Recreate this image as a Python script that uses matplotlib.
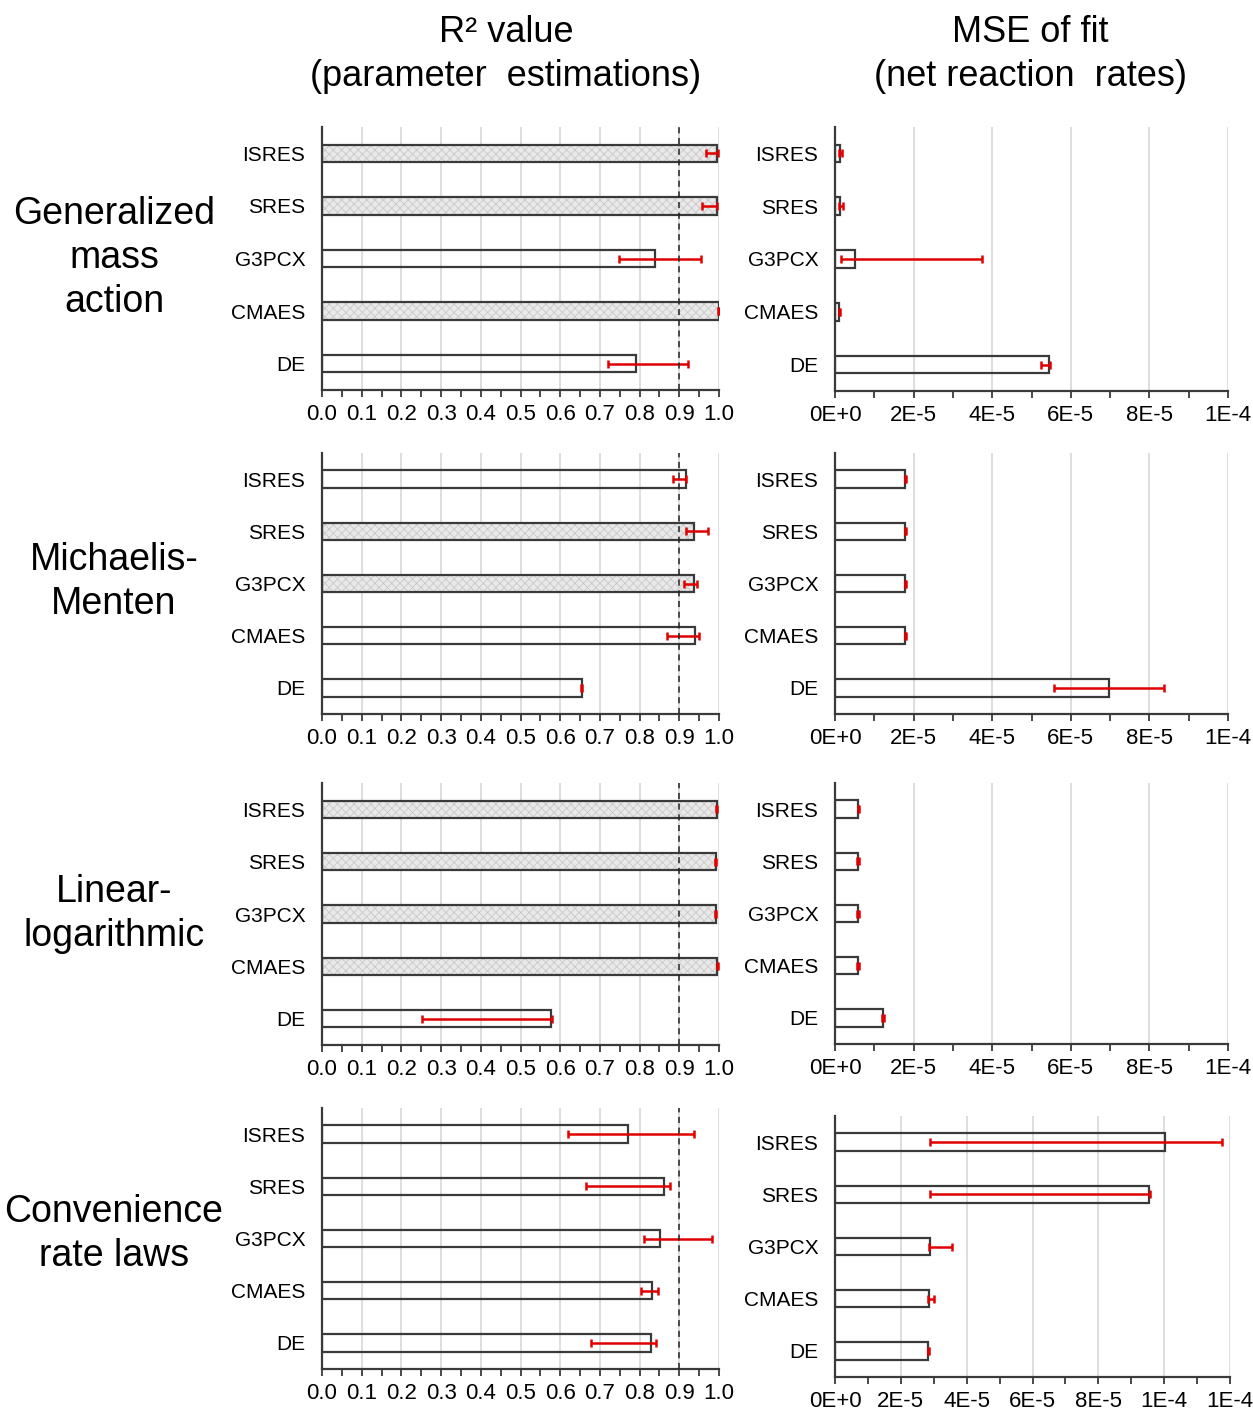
import matplotlib.pyplot as plt
from matplotlib.ticker import MultipleLocator

plt.rcParams["font.family"] = ["Liberation Sans", "DejaVu Sans"]
plt.rcParams["hatch.linewidth"] = 0.6

METHODS = ["ISRES", "SRES", "G3PCX", "CMAES", "DE"]
MODELS = ["Generalized\nmass\naction", "Michaelis-\nMenten",
          "Linear-\nlogarithmic", "Convenience\nrate laws"]

# R2 of parameter estimates: bar value, error-bar low, error-bar high (one list per model)
R2_MEAN = [[0.995, 0.994, 0.840, 0.999, 0.790],
           [0.916, 0.936, 0.936, 0.939, 0.655],
           [0.994, 0.992, 0.992, 0.996, 0.576],
           [0.771, 0.862, 0.851, 0.830, 0.829]]
R2_LOW = [[0.967, 0.956, 0.748, 0.997, 0.721],
          [0.885, 0.916, 0.913, 0.868, 0.652],
          [0.992, 0.990, 0.990, 0.994, 0.252],
          [0.620, 0.664, 0.811, 0.803, 0.677]]
R2_HIGH = [[0.998, 0.996, 0.955, 1.000, 0.921],
           [0.918, 0.973, 0.944, 0.950, 0.656],
           [0.996, 0.993, 0.993, 0.997, 0.580],
           [0.937, 0.876, 0.983, 0.847, 0.841]]
# bars drawn shaded
R2_SHADED = [[1, 1, 0, 1, 0],
             [0, 1, 1, 0, 0],
             [1, 1, 1, 1, 0],
             [0, 0, 0, 0, 0]]

# MSE of fit of net reaction rates
MSE_MEAN = [[1.3e-6, 1.3e-6, 5.2e-6, 1.1e-6, 5.44e-5],
            [1.79e-5, 1.79e-5, 1.79e-5, 1.79e-5, 6.98e-5],
            [5.9e-6, 5.8e-6, 5.8e-6, 5.8e-6, 1.22e-5],
            [1.003e-4, 9.55e-5, 2.89e-5, 2.87e-5, 2.84e-5]]
MSE_LOW = [[1.0e-6, 1.1e-6, 1.5e-6, 1.0e-6, 5.25e-5],
           [1.77e-5, 1.77e-5, 1.77e-5, 1.77e-5, 5.56e-5],
           [5.8e-6, 5.7e-6, 5.7e-6, 5.7e-6, 1.20e-5],
           [2.88e-5, 2.88e-5, 2.86e-5, 2.84e-5, 2.83e-5]]
MSE_HIGH = [[1.9e-6, 2.0e-6, 3.73e-5, 1.2e-6, 5.48e-5],
            [1.80e-5, 1.80e-5, 1.81e-5, 1.80e-5, 8.37e-5],
            [6.2e-6, 6.1e-6, 6.1e-6, 6.1e-6, 1.25e-5],
            [1.176e-4, 9.57e-5, 3.54e-5, 3.01e-5, 2.86e-5]]

R2_TICKS = [0.0, 0.1, 0.2, 0.3, 0.4, 0.5, 0.6, 0.7, 0.8, 0.9, 1.0]
MSE_TICKS = [0, 2e-5, 4e-5, 6e-5, 8e-5, 1e-4]
MSE_TICKLABELS = ["0E+0", "2E-5", "4E-5", "6E-5", "8E-5", "1E-4"]
MSE_TICKS_LAST = [0, 2e-5, 4e-5, 6e-5, 8e-5, 1e-4, 1.2e-4]
MSE_TICKLABELS_LAST = ["0E+0", "2E-5", "4E-5", "6E-5", "8E-5", "1E-4", "1E-4"]

EDGE = "#3a3a3a"
ERR = "#e00000"
W, H = 1253, 1410


def px_axes(fig, x0, y0, x1, y1):
    return fig.add_axes([x0 / W, 1 - y1 / H, (x1 - x0) / W, (y1 - y0) / H])


def style_axes(ax):
    for side in ("top", "right"):
        ax.spines[side].set_visible(False)
    for side in ("left", "bottom"):
        ax.spines[side].set_color(EDGE)
        ax.spines[side].set_linewidth(1.6)
    ax.tick_params(axis="y", length=0, pad=12, labelsize=15)
    ax.tick_params(axis="x", which="both", direction="out", length=5,
                   width=1.3, color=EDGE, labelsize=16, pad=5)
    ax.grid(axis="x", color="#d8d8d8", linewidth=1.2)
    ax.set_axisbelow(True)
    ax.set_ylim(4.5, -0.5)


def draw_bars(ax, mean, low, high, shaded=None):
    y = list(range(len(METHODS)))
    if shaded is not None:
        sx = [m for m, s in zip(mean, shaded) if s]
        sy = [i for i, s in zip(y, shaded) if s]
        ax.barh(sy, sx, height=0.33, color="#e9e9e9", hatch="xxxx",
                edgecolor="#c8c8c8", linewidth=0, zorder=2)
    ax.barh(y, mean, height=0.33, facecolor="none", edgecolor=EDGE,
            linewidth=1.6, zorder=3)
    err = [[max(m - lo, 0) for m, lo in zip(mean, low)],
           [max(hi - m, 0) for m, hi in zip(mean, high)]]
    ax.errorbar(mean, y, xerr=err, fmt="none", ecolor=ERR, elinewidth=1.8,
                capsize=3, capthick=1.8, zorder=4)
    ax.set_yticks(y)
    ax.set_yticklabels(METHODS)


fig = plt.figure(figsize=(W / 100, H / 100), dpi=100)

# pixel boxes of each row: (top, bottom) for the R2 and MSE panels
ROW_R2 = [(127, 390), (453, 714), (783, 1045), (1108, 1369)]
ROW_MSE = [(127, 391), (453, 714), (783, 1044), (1116, 1377)]
LABEL_Y = [258, 582, 914, 1234]

for i in range(4):
    ax = px_axes(fig, 322, ROW_R2[i][0], 719, ROW_R2[i][1])
    style_axes(ax)
    draw_bars(ax, R2_MEAN[i], R2_LOW[i], R2_HIGH[i], R2_SHADED[i])
    ax.set_xlim(0, 1.0)
    ax.set_xticks(R2_TICKS)
    ax.set_xticklabels([f"{t:.1f}" for t in R2_TICKS])
    ax.xaxis.set_minor_locator(MultipleLocator(0.05))
    ax.axvline(0.9, color="#222222", linestyle=(0, (4, 3)), linewidth=1.1, zorder=5)

    last = i == 3
    x1 = 1230 if last else 1228
    ax2 = px_axes(fig, 835, ROW_MSE[i][0], x1, ROW_MSE[i][1])
    style_axes(ax2)
    draw_bars(ax2, MSE_MEAN[i], MSE_LOW[i], MSE_HIGH[i])
    if last:
        ax2.set_xlim(0, 1.2e-4)
        ax2.set_xticks(MSE_TICKS_LAST)
        ax2.set_xticklabels(MSE_TICKLABELS_LAST)
    else:
        ax2.set_xlim(0, 1e-4)
        ax2.set_xticks(MSE_TICKS)
        ax2.set_xticklabels(MSE_TICKLABELS)
    ax2.xaxis.set_minor_locator(MultipleLocator(1e-5))

    fig.text(114 / W, 1 - LABEL_Y[i] / H, MODELS[i], ha="center", va="center",
             fontsize=27, linespacing=1.28)

fig.text(506 / W, 1 - 33 / H, "R² value", ha="center", va="center", fontsize=26)
fig.text(506 / W, 1 - 76 / H, "(parameter  estimations)", ha="center", va="center", fontsize=26)
fig.text(1030 / W, 1 - 33 / H, "MSE of fit", ha="center", va="center", fontsize=26)
fig.text(1030 / W, 1 - 76 / H, "(net reaction  rates)", ha="center", va="center", fontsize=26)

fig.savefig("out.png", dpi=100)
